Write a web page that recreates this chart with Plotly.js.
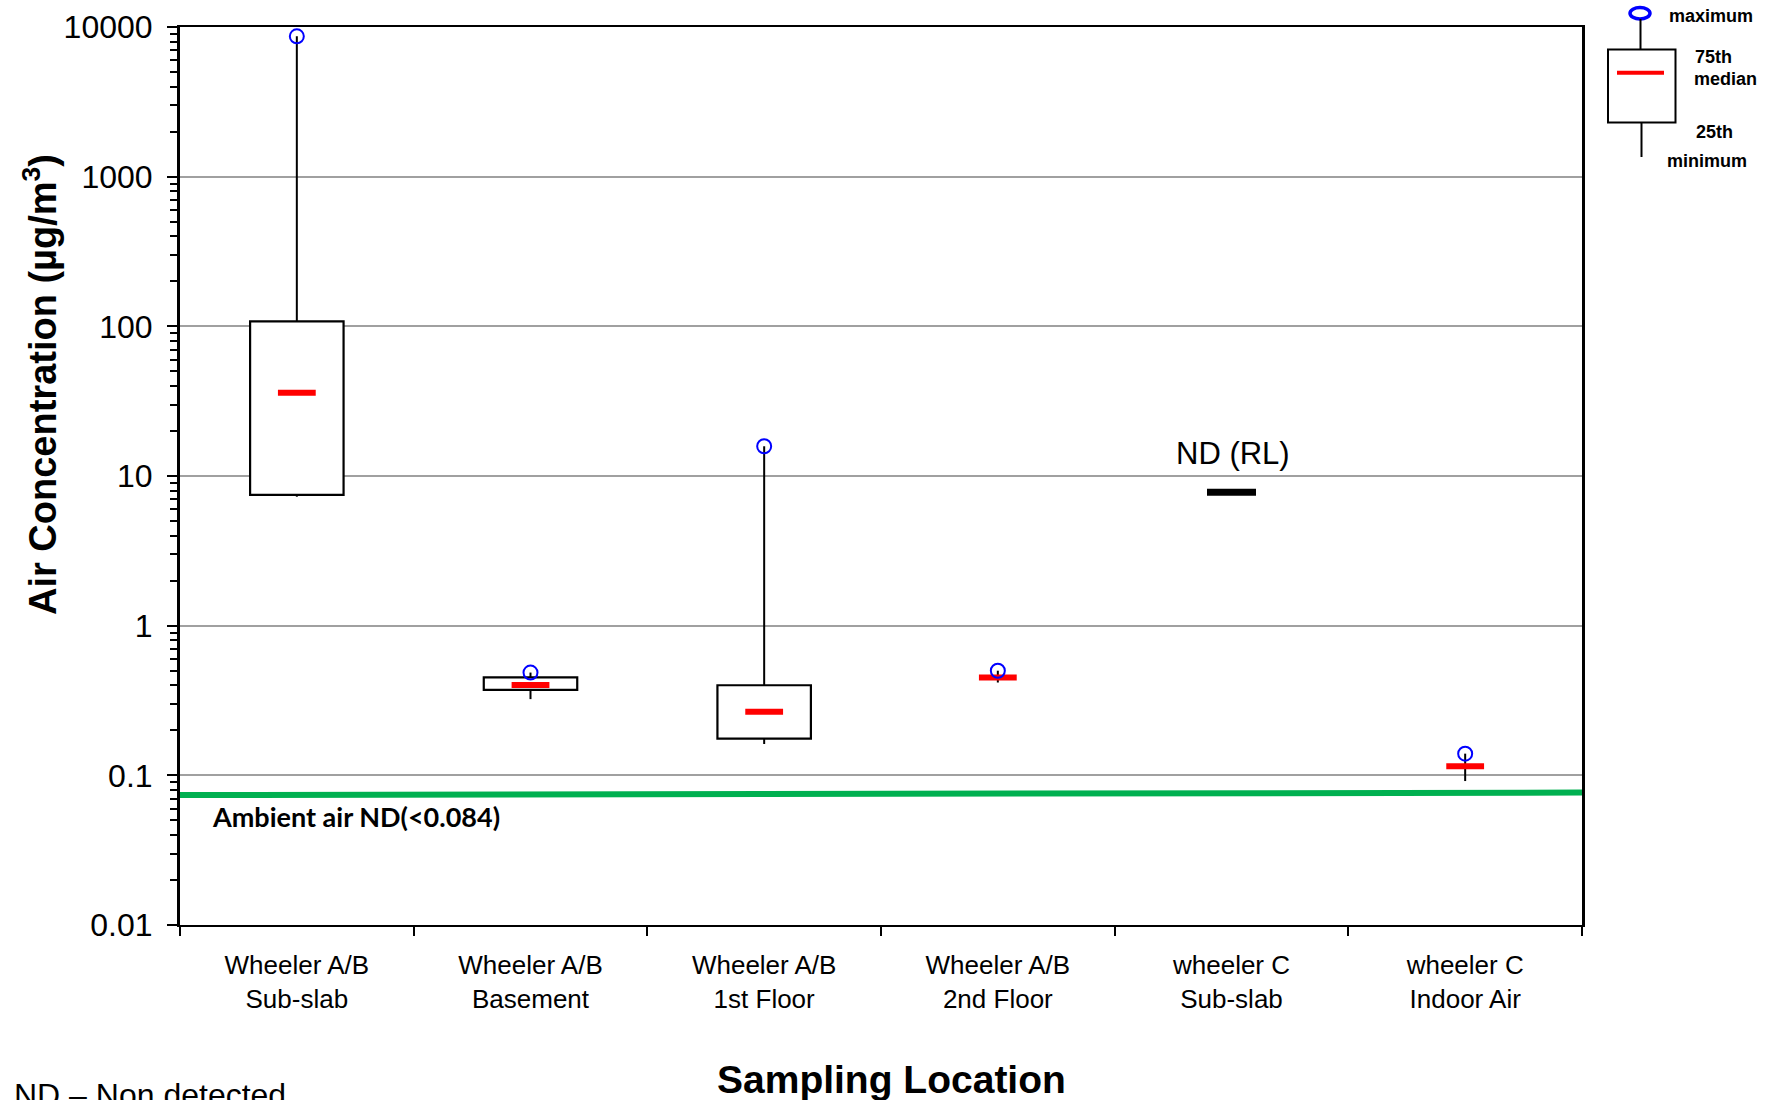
<!DOCTYPE html>
<html><head><meta charset="utf-8">
<script src="https://cdn.plot.ly/plotly-3.0.1.min.js"></script>
<style>html,body{margin:0;padding:0;background:#fff;}#chart{width:1766px;height:1100px;}</style>
</head><body><div id="chart"></div>
<script>
// ---- data ----
const categories = ['Wheeler A/B<br>Sub-slab','Wheeler A/B<br>Basement','Wheeler A/B<br>1st Floor','Wheeler A/B<br>2nd Floor','wheeler C<br>Sub-slab','wheeler C<br>Indoor Air'];
const minimum = [7.27, 0.323, 0.162, 0.417, null, 0.0916];
const q1      = [7.47, 0.372, 0.176, null, null, null];
const median  = [36, 0.401, 0.266, 0.451, null, 0.115];
const q3      = [108, 0.451, 0.40, null, null, null];
const maximum = [8660, 0.486, 15.8, 0.50, null, 0.1396];
const ndCategory = ['wheeler C<br>Sub-slab'];
const ndValue = [7.8];
const ambientX = [0, 1];
const ambientY = [0.0738, 0.0767];
const yTickVals = [0.01, 0.1, 1, 10, 100, 1000, 10000];
const yTickText = ['0.01', '0.1', '1', '10', '100', '1000', '10000'];

// ---- traces ----
const boxX = [], boxBase = [], boxLen = [];
categories.forEach((c, i) => { if (q1[i] !== null && q3[i] !== null) { boxX.push(c); boxBase.push(q1[i]); boxLen.push(q3[i] - q1[i]); } });

const whX = [], whY = [];
categories.forEach((c, i) => {
  if (maximum[i] === null) return;
  const top = q3[i] !== null ? q3[i] : median[i];
  const bot = q1[i] !== null ? q1[i] : median[i];
  whX.push(c, c, null, c, c, null);
  whY.push(top, maximum[i], null, bot, minimum[i], null);
});

const medX = [], medY = [], maxX = [], maxY = [];
categories.forEach((c, i) => {
  if (median[i] !== null) { medX.push(c); medY.push(median[i]); }
  if (maximum[i] !== null) { maxX.push(c); maxY.push(maximum[i]); }
});

const traces = [
  { type: 'bar', x: boxX, base: boxBase, y: boxLen, width: 0.4,
    marker: { color: 'white', line: { color: 'black', width: 2.2 } }, hoverinfo: 'skip' },
  { type: 'scatter', mode: 'lines', x: whX, y: whY, connectgaps: false,
    line: { color: 'black', width: 2 }, hoverinfo: 'skip' },
  { type: 'scatter', mode: 'markers', x: medX, y: medY,
    marker: { symbol: 'line-ew', size: 27, color: 'red', line: { color: 'red', width: 6 } } },
  { type: 'scatter', mode: 'markers', x: maxX, y: maxY,
    marker: { symbol: 'circle-open', size: 14, color: 'blue', line: { color: 'blue', width: 2 } } },
  { type: 'scatter', mode: 'markers', x: ndCategory, y: ndValue,
    marker: { symbol: 'line-ew', size: 35, color: 'black', line: { color: 'black', width: 7 } } },
  { type: 'scatter', mode: 'lines', x: ambientX, y: ambientY, xaxis: 'x2', yaxis: 'y',
    line: { color: 'rgb(0,176,80)', width: 6 }, hoverinfo: 'skip' }
];

// ---- layout helpers (pixel -> paper) ----
const PL = 180, PR = 1582, PT = 27, PB = 925;
const px = v => (v - PL) / (PR - PL);
const py = v => (PB - v) / (PB - PT);

const minorVals = [];
for (let e = -2; e < 4; e++) for (let k = 2; k <= 9; k++) minorVals.push(k * Math.pow(10, e));

const shapes = [
  // legend schematic
  { type: 'circle', xref: 'paper', yref: 'paper', x0: px(1630), x1: px(1650), y0: py(7.5), y1: py(19), line: { color: 'blue', width: 3.5 } },
  { type: 'line', xref: 'paper', yref: 'paper', x0: px(1640.5), x1: px(1640.5), y0: py(19), y1: py(49), line: { color: 'black', width: 2 } },
  { type: 'rect', xref: 'paper', yref: 'paper', x0: px(1608), x1: px(1675.5), y0: py(49.5), y1: py(122.5), line: { color: 'black', width: 2 }, fillcolor: 'white' },
  { type: 'line', xref: 'paper', yref: 'paper', x0: px(1617), x1: px(1664), y0: py(72.7), y1: py(72.7), line: { color: 'red', width: 4 } },
  { type: 'line', xref: 'paper', yref: 'paper', x0: px(1641.5), x1: px(1641.5), y0: py(122.5), y1: py(157), line: { color: 'black', width: 2 } }
];

const lf = { family: 'Arial, "Liberation Sans", sans-serif', size: 18, color: 'black' };
const ann = (text, x, y, xanchor, font, extra) => Object.assign({ text, xref: 'paper', yref: 'paper', x: px(x), y: py(y), xanchor, yanchor: 'middle', showarrow: false, font }, extra || {});

const annotations = [
  ann('<b>maximum</b>', 1667, 16, 'left', lf),
  ann('<b>75th</b>', 1693, 57, 'left', lf),
  ann('<b>median</b>', 1692, 79, 'left', lf),
  ann('<b>25th</b>', 1694, 132, 'left', lf),
  ann('<b>minimum</b>', 1665, 161, 'left', lf),
  ann('ND (RL)', 1233, 453, 'center', { family: 'Arial, "Liberation Sans", sans-serif', size: 31, color: 'black' }),
  ann('<b>Ambient air ND(&lt;0.084)</b>', 210, 816, 'left', { family: 'Lato, "Open Sans", sans-serif', size: 27, color: 'black' }),
  ann('ND – Non detected', 12, 1095, 'left', { family: 'Arial, "Liberation Sans", sans-serif', size: 32, color: 'black' }),
  ann('<b>Sampling Location</b>', 891, 1079, 'center', { family: 'Arial, "Liberation Sans", sans-serif', size: 39, color: 'black' }),
  ann('<b>Air Concentration (µg/m<sup>3</sup>)</b>', 40, 385, 'center', { family: 'Arial, "Liberation Sans", sans-serif', size: 38, color: 'black' }, { textangle: -90 })
];

const layout = {
  width: 1766, height: 1100,
  margin: { l: PL, r: 1766 - PR, t: PT, b: 1100 - PB, pad: 0 },
  paper_bgcolor: 'white', plot_bgcolor: 'white',
  showlegend: false,
  font: { family: 'Arial, "Liberation Sans", sans-serif', color: 'black' },
  xaxis: {
    type: 'category', categoryorder: 'array', categoryarray: categories, range: [-0.5, 5.5],
    tickson: 'boundaries', ticks: 'outside', ticklen: 9, tickwidth: 2, tickcolor: 'black',
    showline: true, linecolor: 'black', linewidth: 2, mirror: true, showgrid: false,
    tickfont: { size: 26, color: 'black' }, ticklabelstandoff: 16, fixedrange: true
  },
  xaxis2: { overlaying: 'x', range: [0, 1], visible: false, fixedrange: true },
  yaxis: {
    type: 'log', range: [-2, 4], tickmode: 'array', tickvals: yTickVals, ticktext: yTickText,
    ticks: 'outside', ticklen: 10, tickwidth: 2, tickcolor: 'black',
    showline: true, linecolor: 'black', linewidth: 3, mirror: true,
    showgrid: true, gridcolor: '#a0a0a0', gridwidth: 2, zeroline: false,
    tickfont: { size: 32, color: 'black' }, ticklabelstandoff: 8, fixedrange: true,
    minor: { tickmode: 'array', tickvals: minorVals, ticks: 'outside', ticklen: 7, tickwidth: 2, tickcolor: 'black', showgrid: false }
  },
  shapes, annotations
};

Plotly.newPlot('chart', traces, layout, { displayModeBar: false, staticPlot: true });
</script>
</body></html>
